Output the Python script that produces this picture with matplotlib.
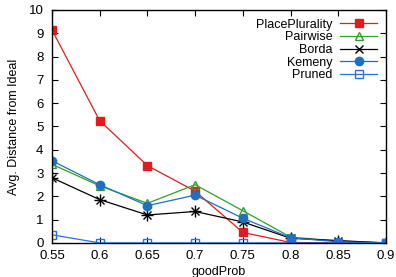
import matplotlib
matplotlib.use("Agg")
import matplotlib.pyplot as plt

plt.rcParams['font.family'] = ['Liberation Sans', 'DejaVu Sans']

good_prob = [0.55, 0.6, 0.65, 0.7, 0.75, 0.8, 0.85, 0.9]
place_plurality = [9.15, 5.25, 3.32, 2.22, 0.45, 0.02, 0.0, 0.0]
pairwise = [3.38, 2.45, 1.7, 2.5, 1.38, 0.25, 0.08, 0.0]
borda = [2.8, 1.86, 1.2, 1.35, 0.9, 0.2, 0.1, 0.0]
kemeny = [3.53, 2.5, 1.6, 2.05, 1.06, 0.22, 0.05, 0.0]
pruned = [0.35, 0.0, 0.0, 0.0, 0.0, 0.0, 0.0, 0.0]

fig = plt.figure(figsize=(3.96, 2.77), dpi=100)
ax = fig.add_axes([0.131, 0.123, 0.844, 0.841])

lw = 0.9
ax.plot(good_prob, place_plurality, color='#e41a1c', marker='s', ms=6, lw=lw, label='PlacePlurality')
ax.plot(good_prob, pairwise, color='#2ca02c', marker='^', ms=6, mfc='none', mew=1.0, lw=lw, label='Pairwise')
ax.plot(good_prob, borda, color='black', marker='x', ms=6, mew=1.0, lw=lw, label='Borda')
ax.plot(good_prob, borda, color='black', marker='+', ms=8, mew=1.0, lw=0, label='_nolegend_')
ax.plot(good_prob, kemeny, color='#1f6fbf', marker='o', ms=6, lw=lw, label='Kemeny')
ax.plot(good_prob, pruned, color='#2b6fe8', marker='s', ms=6, mfc='none', mew=1.0, lw=lw, label='Pruned')

ax.set_xlim(0.55, 0.9)
ax.set_ylim(0, 10)
ax.set_xticks(good_prob)
ax.set_xticklabels(['0.55', '0.6', '0.65', '0.7', '0.75', '0.8', '0.85', '0.9'])
ax.set_yticks(range(0, 11))
ax.tick_params(direction='in', top=True, right=True, labelsize=9.5, length=4, width=0.8)
ax.tick_params(axis='y', pad=6)
ax.tick_params(axis='x', pad=5)
for s in ax.spines.values():
    s.set_linewidth(1.0)

ax.set_xlabel('goodProb', fontsize=9, labelpad=3)
ax.set_ylabel('Avg. Distance from Ideal', fontsize=9, labelpad=6)

leg = ax.legend(loc='upper right', frameon=False, markerfirst=False, fontsize=9,
                handlelength=3, labelspacing=0.05, borderaxespad=0.3, handletextpad=0.6)
for t in leg.get_texts():
    t.set_ha('right')

fig.savefig('out.png', dpi=100)
